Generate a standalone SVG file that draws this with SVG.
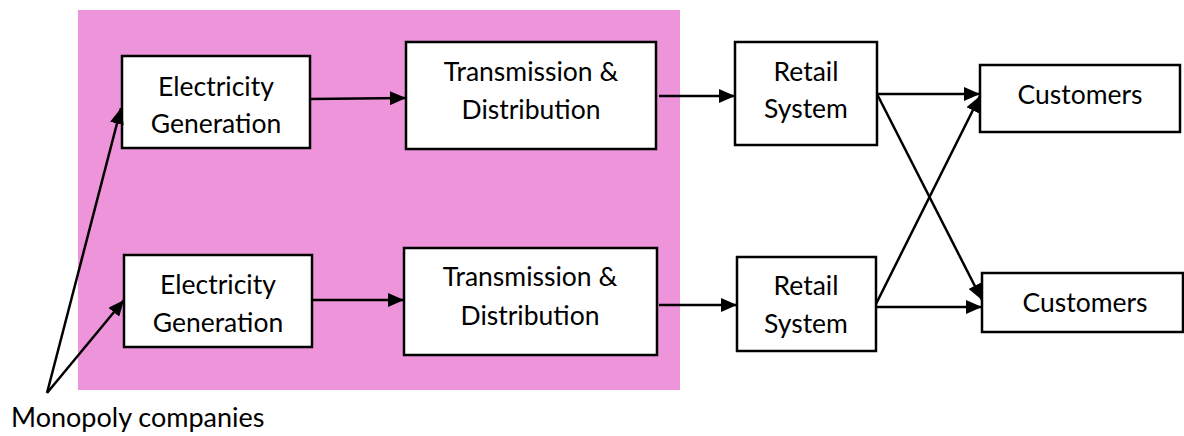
<svg xmlns="http://www.w3.org/2000/svg" width="1184" height="436" viewBox="0 0 1184 436">
<style>
.box{fill:#fff;stroke:#000;stroke-width:2.5}
.t{font-family:Lato,"Open Sans",sans-serif;font-size:26.5px;fill:#000;text-anchor:middle}
.c{stroke:#000;stroke-width:2.5;fill:none;marker-end:url(#ah)}
</style>
<defs>
<marker id="ah" markerUnits="userSpaceOnUse" markerWidth="18" markerHeight="14" refX="16" refY="7" orient="auto">
<path d="M0,0 L16,7 L0,14 Z" fill="#000"/>
</marker>
</defs>
<rect x="78" y="10" width="602" height="380" fill="#ED94DB"/>
<g id="gen1"><rect class="box" x="122" y="56" width="188" height="92"/><text class="t" x="216" y="96">Electricity</text><text class="t" x="216" y="133">Generation</text></g>
<g id="gen2"><rect class="box" x="124" y="255" width="188" height="92"/><text class="t" x="218" y="294">Electricity</text><text class="t" x="218" y="332">Generation</text></g>
<g id="td1"><rect class="box" x="406" y="42" width="250" height="107"/><text class="t" x="531" y="81">Transmission &amp;</text><text class="t" x="531" y="119">Distribution</text></g>
<g id="td2"><rect class="box" x="404" y="248" width="253" height="107"/><text class="t" x="530" y="286">Transmission &amp;</text><text class="t" x="530" y="325">Distribution</text></g>
<g id="ret1"><rect class="box" x="735" y="42" width="142" height="103"/><text class="t" x="806" y="81">Retail</text><text class="t" x="806" y="118">System</text></g>
<g id="ret2"><rect class="box" x="737" y="257" width="139" height="94"/><text class="t" x="806" y="295">Retail</text><text class="t" x="806" y="333">System</text></g>
<g id="cust1"><rect class="box" x="980" y="65" width="200" height="67"/><text class="t" x="1080" y="104">Customers</text></g>
<g id="cust2"><rect class="box" x="982" y="273" width="201" height="59"/><text class="t" x="1085" y="312">Customers</text></g>
<g id="label"><text x="11" y="427" style="font-family:Lato,'Open Sans',sans-serif;font-size:27px;fill:#000">Monopoly companies</text></g>
<g id="connectors">
<line class="c" x1="310" y1="99" x2="406" y2="98"/>
<line class="c" x1="659" y1="96" x2="735" y2="96"/>
<line class="c" x1="877" y1="94" x2="980" y2="94"/>
<line class="c" x1="877" y1="94" x2="982" y2="300"/>
<line class="c" x1="876" y1="304" x2="980" y2="96"/>
<line class="c" x1="312" y1="300" x2="404" y2="300"/>
<line class="c" x1="659" y1="305" x2="737" y2="305"/>
<line class="c" x1="876" y1="307" x2="982" y2="307"/>
<line class="c" x1="47" y1="393" x2="121" y2="108"/>
<line class="c" x1="47" y1="393" x2="124" y2="300"/>
</g>
</svg>
